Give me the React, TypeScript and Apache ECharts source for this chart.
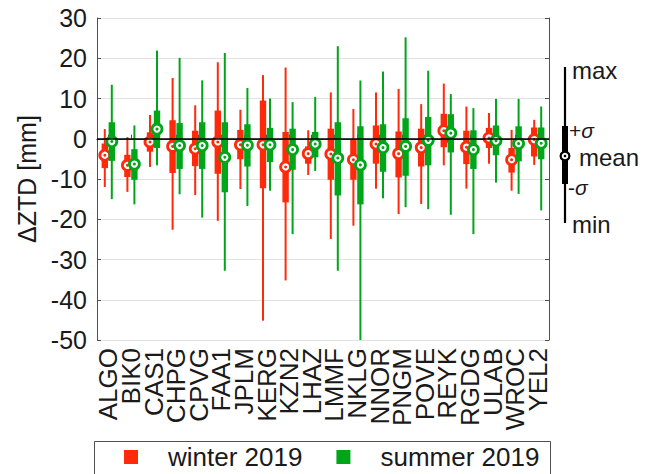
import React, { useEffect, useRef } from "react";
import * as echarts from "echarts";

const stations = ["ALGO","BIK0","CAS1","CHPG","CPVG","FAA1","JPLM","KERG","KZN2","LHAZ","LMMF","NKLG","NNOR","PNGM","POVE","REYK","RGDG","ULAB","WROC","YEL2"];

const winterMean = [-4.1,-6.6,-0.8,-1.9,-2.5,-0.8,-1.5,-1.5,-7.0,-3.7,-3.8,-5.2,-1.3,-3.7,-2.2,2.0,-2.1,0.2,-5.2,-0.2];
const winterMin = [-12.0,-13.2,-7.0,-22.6,-14.0,-20.4,-12.5,-45.2,-35.2,-9.0,-24.9,-21.6,-12.4,-18.7,-16.2,-6.6,-12.4,-6.2,-12.9,-6.5];
const winterMax = [2.4,0.4,5.9,15.1,8.3,19.0,7.2,15.8,17.7,2.1,11.5,7.4,11.5,12.4,8.6,13.7,8.0,6.4,2.2,4.7];
const winterLow = [-7.3,-9.5,-3.2,-8.5,-6.8,-8.7,-5.1,-12.3,-15.8,-6.2,-10.2,-10.2,-6.2,-9.6,-6.9,-2.1,-6.3,-2.3,-8.4,-4.4];
const winterHigh = [-1.2,-4.0,1.6,4.6,2.0,7.0,2.2,9.5,1.7,-1.9,2.5,-0.1,3.3,1.8,2.5,6.2,2.0,2.7,-2.3,2.8];

const summerMean = [-0.7,-6.3,2.4,-1.7,-1.7,-4.6,-1.6,-1.5,-2.7,-1.3,-4.8,-6.5,-2.2,-1.9,-0.4,1.4,-2.7,-0.5,-1.2,-1.1];
const summerMin = [-15.0,-16.3,-6.6,-13.8,-19.6,-32.8,-16.7,-12.9,-23.7,-8.0,-32.8,-50,-14.8,-17.0,-17.5,-18.9,-23.7,-10.9,-13.7,-17.8];
const summerMax = [13.4,3.3,21.9,20.1,14.5,21.3,12.6,10.0,9.1,10.4,23.0,14.5,16.7,25.2,16.9,11.1,7.6,9.9,9.9,8.0];
const summerLow = [-5.5,-10.2,-2.3,-7.5,-7.5,-13.3,-6.9,-5.8,-7.7,-4.6,-14.1,-16.3,-8.2,-9.2,-6.6,-3.4,-7.5,-4.1,-5.6,-5.1];
const summerHigh = [4.1,-2.6,7.0,3.9,4.1,4.1,3.6,2.7,2.5,1.7,4.1,3.1,3.6,5.1,5.4,6.1,2.1,3.3,3.1,2.8];

const yTicks = { min: -50, max: 30, interval: 10 };
const seriesNames = ["winter 2019", "summer 2019"];

const RED = "#ff2a0a";
const GREEN = "#00a619";
const FONT = "Arial, 'Liberation Sans', Helvetica, sans-serif";
const TXT = "#1a1a1a";
const AX = "#505050";

function build(mean: number[], mn: number[], lo: number[], hi: number[], mx: number[]) {
  return stations.map((_, i) => [i, mn[i], lo[i], hi[i], mx[i], mean[i]]);
}

function makeRender(color: string, offset: number) {
  return (params: any, api: any) => {
    const idx = api.value(0);
    const bw = api.size([1, 0])[0];
    const dx = offset * bw;
    const pMin = api.coord([idx, api.value(1)]);
    const pLo = api.coord([idx, api.value(2)]);
    const pHi = api.coord([idx, api.value(3)]);
    const pMax = api.coord([idx, api.value(4)]);
    const pMean = api.coord([idx, api.value(5)]);
    const x = pMean[0] + dx;
    return {
      type: "group",
      children: [
        { type: "line", shape: { x1: x, y1: pMax[1], x2: x, y2: pMin[1] }, style: { stroke: color, lineWidth: 2 } },
        { type: "rect", shape: { x: x - 3.2, y: pHi[1], width: 6.4, height: pLo[1] - pHi[1] }, style: { fill: color } },
        { type: "circle", shape: { cx: x, cy: pMean[1], r: 5 }, style: { fill: "#fff", stroke: color, lineWidth: 2.8 } },
        { type: "circle", shape: { cx: x, cy: pMean[1], r: 1.5 }, style: { fill: color } },
      ],
    };
  };
}

export default function App() {
  const ref = useRef<HTMLDivElement>(null);
  useEffect(() => {
    if (!ref.current) return;
    const chart = echarts.init(ref.current, null, { renderer: "svg" });
    const ax = 565;
    chart.setOption({
      animation: false,
      backgroundColor: "#fff",
      textStyle: { fontFamily: FONT },
      grid: { left: 97, top: 18, width: 452, height: 322, containLabel: false },
      legend: {
        data: seriesNames,
        left: 124,
        top: 444,
        padding: 0,
        icon: "rect",
        itemWidth: 14,
        itemHeight: 14,
        itemGap: 34,
        selectedMode: false,
        textStyle: { fontSize: 26, color: TXT, fontFamily: FONT, padding: [0, 0, 0, 25] },
      },
      xAxis: [
        {
          type: "category",
          data: stations,
          boundaryGap: true,
          position: "bottom",
          axisLine: { show: true, lineStyle: { color: AX, width: 1 } },
          axisTick: { show: true, inside: true, alignWithLabel: true, length: 4, lineStyle: { color: AX } },
          axisLabel: { rotate: 90, fontSize: 26, color: TXT, fontFamily: FONT, margin: 8, interval: 0 },
          splitLine: { show: false },
        },
        {
          type: "category",
          data: stations,
          boundaryGap: true,
          position: "top",
          axisLine: { show: true, lineStyle: { color: AX, width: 1 } },
          axisTick: { show: true, inside: true, alignWithLabel: true, length: 4, lineStyle: { color: AX } },
          axisLabel: { show: false },
          splitLine: { show: false },
        },
      ],
      yAxis: [
        {
          type: "value",
          min: yTicks.min,
          max: yTicks.max,
          interval: yTicks.interval,
          position: "left",
          name: "ΔZTD [mm]",
          nameLocation: "middle",
          nameGap: 55,
          nameTextStyle: { fontSize: 25, color: TXT, fontFamily: FONT },
          axisLine: { show: true, lineStyle: { color: AX, width: 1 } },
          axisTick: { show: true, inside: true, length: 4, lineStyle: { color: AX } },
          axisLabel: { fontSize: 25, color: TXT, fontFamily: FONT, margin: 10 },
          splitLine: { show: true, lineStyle: { color: "#e2e2e2", width: 1 } },
        },
        {
          type: "value",
          min: yTicks.min,
          max: yTicks.max,
          interval: yTicks.interval,
          position: "right",
          axisLine: { show: true, lineStyle: { color: AX, width: 1 } },
          axisTick: { show: true, inside: true, length: 4, lineStyle: { color: AX } },
          axisLabel: { show: false },
          splitLine: { show: false },
        },
      ],
      series: [
        {
          type: "line",
          data: [],
          z: 1,
          silent: true,
          markLine: {
            silent: true,
            symbol: "none",
            label: { show: false },
            lineStyle: { color: "#000", width: 1.5, type: "solid" },
            data: [{ yAxis: 0 }],
          },
        },
        {
          name: seriesNames[0],
          type: "custom",
          z: 2,
          itemStyle: { color: RED },
          encode: { x: 0, y: [1, 2, 3, 4, 5] },
          renderItem: makeRender(RED, -0.155),
          data: build(winterMean, winterMin, winterLow, winterHigh, winterMax),
        },
        {
          name: seriesNames[1],
          type: "custom",
          z: 3,
          itemStyle: { color: GREEN },
          encode: { x: 0, y: [1, 2, 3, 4, 5] },
          renderItem: makeRender(GREEN, 0.155),
          data: build(summerMean, summerMin, summerLow, summerHigh, summerMax),
        },
      ],
      graphic: [
        { type: "rect", left: 92, top: 439, shape: { width: 456, height: 60 }, style: { fill: "none", stroke: AX, lineWidth: 1 }, z: 0 },
        { type: "line", shape: { x1: ax, y1: 67, x2: ax, y2: 223 }, style: { stroke: "#000", lineWidth: 2.2 } },
        { type: "rect", shape: { x: ax - 3, y: 126, width: 6, height: 58 }, style: { fill: "#000" } },
        { type: "circle", shape: { cx: ax, cy: 156, r: 4.4 }, style: { fill: "#fff", stroke: "#000", lineWidth: 2.2 } },
        { type: "circle", shape: { cx: ax, cy: 156, r: 1.3 }, style: { fill: "#000" } },
        { type: "text", x: 572, y: 70, style: { text: "max", fontSize: 24, fontFamily: FONT, fill: TXT, verticalAlign: "middle" } },
        { type: "text", x: 569, y: 130, style: { text: "+{s|σ}", fontSize: 21, fontFamily: FONT, fill: TXT, verticalAlign: "middle", rich: { s: { fontStyle: "italic", fontSize: 21, fontFamily: FONT, fill: TXT } } } },
        { type: "text", x: 579, y: 157, style: { text: "mean", fontSize: 24, fontFamily: FONT, fill: TXT, verticalAlign: "middle" } },
        { type: "text", x: 568, y: 187, style: { text: "-{s|σ}", fontSize: 21, fontFamily: FONT, fill: TXT, verticalAlign: "middle", rich: { s: { fontStyle: "italic", fontSize: 21, fontFamily: FONT, fill: TXT } } } },
        { type: "text", x: 572, y: 224, style: { text: "min", fontSize: 24, fontFamily: FONT, fill: TXT, verticalAlign: "middle" } },
      ],
    });
    return () => chart.dispose();
  }, []);
  return <div ref={ref} style={{ position: "fixed", left: 0, top: 0, width: 655, height: 474 }} />;
}
